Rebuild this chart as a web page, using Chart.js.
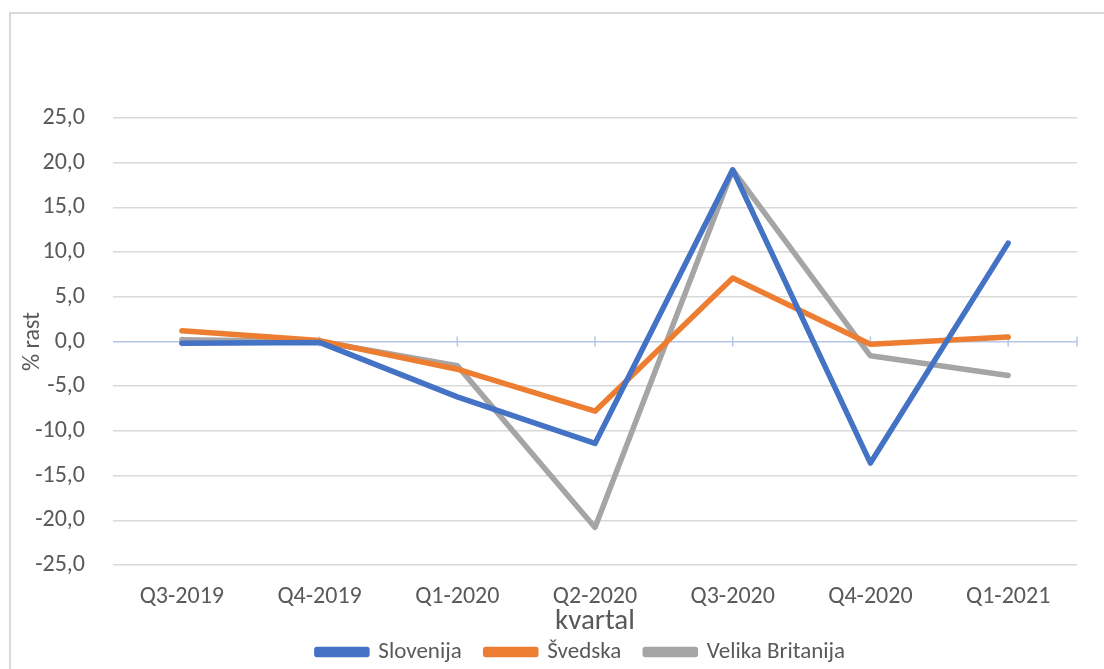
<!DOCTYPE html>
<html>
<head>
<meta charset="utf-8">
<script src="https://cdn.jsdelivr.net/npm/chart.js@4"></script>
<style>
html,body{margin:0;padding:0;background:#fff;overflow:hidden;}
#frame{position:absolute;left:9px;top:12px;width:1200px;height:800px;border:2px solid #d9d9d9;box-sizing:border-box;}
#wrap{position:absolute;left:0;top:0;width:1104px;height:669px;}
</style>
</head>
<body>
<div id="frame"></div>
<div id="wrap"><canvas id="c" width="1104" height="669"></canvas></div>
<script>
const categories = ["Q3-2019","Q4-2019","Q1-2020","Q2-2020","Q3-2020","Q4-2020","Q1-2021"];
const slovenija = [-0.2, -0.1, -6.2, -11.4, 19.2, -13.6, 11.0];
const svedska = [1.2, 0.1, -3.1, -7.8, 7.1, -0.3, 0.5];
const velikaBritanija = [0.2, 0.0, -2.7, -20.8, 19.2, -1.6, -3.8];
const yTicks = [-25,-20,-15,-10,-5,0,5,10,15,20,25];

const FONT = "Carlito, Calibri, 'Open Sans', sans-serif";
const TXT = '#595959';

const zeroTicks = {
  id: 'zeroTicks',
  afterLayout(chart) {
    const lg = chart.legend;
    if (lg) { lg.left += 33; lg.right += 33; }
  },
  beforeDatasetsDraw(chart) {
    const x = chart.scales.x, y = chart.scales.y, ctx = chart.ctx;
    const y0 = y.getPixelForValue(0);
    ctx.save();
    ctx.strokeStyle = '#b4c7e7';
    ctx.lineWidth = 1.5;
    const xs = [];
    for (let i = 0; i < x.ticks.length; i++) xs.push(x.getPixelForTick(i));
    xs.push(chart.chartArea.right);
    ctx.beginPath();
    xs.forEach(px => { ctx.moveTo(px, y0 - 5); ctx.lineTo(px, y0 + 5); });
    ctx.stroke();
    ctx.restore();
  }
};

const mk = (label, data, color) => ({
  label, data,
  borderColor: color, backgroundColor: color,
  borderWidth: 5.5, pointRadius: 0, pointHoverRadius: 0,
  borderCapStyle: 'round', borderJoinStyle: 'round',
  tension: 0, fill: false
});

new Chart(document.getElementById('c'), {
  type: 'line',
  data: {
    labels: categories,
    datasets: [
      mk('Slovenija', slovenija, '#4472C4'),
      mk('Švedska', svedska, '#ED7D31'),
      mk('Velika Britanija', velikaBritanija, '#A5A5A5')
    ]
  },
  options: {
    responsive: false,
    animation: false,
    events: [],
    layout: { padding: { top: 118, right: 27, left: 19, bottom: 0 } },
    plugins: {
      legend: {
        position: 'bottom',
        maxHeight: 52.5,
        labels: {
          boxWidth: 50, boxHeight: 5,
          color: TXT,
          font: { family: FONT, size: 23 },
          padding: 24
        }
      },
      tooltip: { enabled: false }
    },
    scales: {
      x: {
        offset: true,
        grid: { display: false, drawTicks: false },
        border: { display: false },
        ticks: { color: TXT, font: { family: FONT, size: 24 }, padding: 18, maxRotation: 0 },
        title: { display: true, text: 'kvartal', color: TXT, font: { family: FONT, size: 29 }, padding: { top: 0, bottom: -23 } },
        afterFit(s) { s.height = 51.5; }
      },
      y: {
        min: -25, max: 25,
        afterBuildTicks(s) { s.ticks = yTicks.map(v => ({ value: v })); },
        grid: {
          drawTicks: false,
          lineWidth: 1.5,
          color: c => (c.tick && c.tick.value === 0) ? '#b4c7e7' : '#d9d9d9'
        },
        border: { display: false },
        ticks: {
          color: TXT, font: { family: FONT, size: 24 }, padding: 28,
          callback: v => v.toFixed(1).replace('.', ',')
        },
        title: { display: true, text: '% rast', color: TXT, font: { family: FONT, size: 24 }, padding: { top: 0, bottom: 0 } },
        afterFit(s) { s.width = 94; }
      }
    }
  },
  plugins: [zeroTicks]
});
</script>
</body>
</html>
